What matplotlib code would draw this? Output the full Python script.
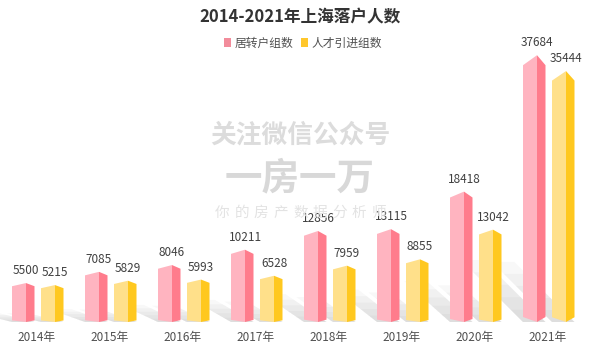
import matplotlib.pyplot as plt
from matplotlib.patches import Polygon, Patch

# 上海落户数据
years = ['2014年', '2015年', '2016年', '2017年', '2018年', '2019年', '2020年', '2021年']
juzhuanhu = [5500, 7085, 8046, 10211, 12856, 13115, 18418, 37684]
rencai = [5215, 5829, 5993, 6528, 7959, 8855, 13042, 35444]

plt.rcParams['font.family'] = ['Noto Sans CJK SC', 'DejaVu Sans']

pink_front, pink_side = '#FFB4C0', '#FF7C8C'
yellow_front, yellow_side = '#FFE08A', '#FFC81F'

fig = plt.figure(figsize=(6, 3.5), dpi=100)
ax = fig.add_axes([0, 28 / 350, 1, 322 / 350])
ax.set_xlim(-37 / 73, (600 - 37) / 73)
ax.set_ylim(0, 45480)
ax.axis('off')

px_x = 1 / 73          # один пиксель по x
px_y = 45480 / 322     # один пиксель по y


def shadow(x0, x2, value, k):
    # мягкая тень на полу, уходит влево-вверх
    h = value / px_y
    length = 30 + 0.12 * h
    for f in [0.2, 0.4, 0.6, 0.8, 1.0]:
        sx = -length * f * px_x
        sy = length * k * f * px_y
        pts = [(x0, 0), (x2, 0), (x2 + sx, sy), (x0 + sx, sy)]
        ax.add_patch(Polygon(pts, closed=True, facecolor='#8a8a8a', edgecolor='none',
                             alpha=0.06, zorder=1))


def bar3d(xc, value, front, side):
    x0 = xc - 14 * px_x / 2 - 4 * px_x
    x1 = x0 + 14 * px_x
    x2 = x1 + 8.5 * px_x
    h = value / px_y
    cap = (2 + 0.03 * h) * px_y
    bot = cap * 0.5
    ax.add_patch(Polygon([(x0, bot), (x1, 0), (x1, value), (x0, value - cap)],
                         closed=True, facecolor=front, edgecolor='none', zorder=3))
    ax.add_patch(Polygon([(x1, 0), (x2, bot), (x2, value - cap), (x1, value)],
                         closed=True, facecolor=side, edgecolor='none', zorder=3))
    return x0, x1, x2


for i in range(len(years)):
    k = 0.25 + 0.75 * i / (len(years) - 1)
    for xc, v, fc, sc in [(i - 14 * px_x, juzhuanhu[i], pink_front, pink_side),
                          (i + 15 * px_x, rencai[i], yellow_front, yellow_side)]:
        x0, x1, x2 = bar3d(xc, v, fc, sc)
        shadow(x0, x2, v, k)
        ax.annotate(str(v), xy=(x1, v), xytext=(0, 6), textcoords='offset pixels',
                    ha='center', va='bottom', fontsize=8.5, color='#404040', zorder=5)
    ax.annotate(years[i], xy=(i, 0), xytext=(0, -15), textcoords='offset pixels',
                ha='center', va='center', fontsize=8.5, color='#505050')

# водяной знак
fig.text(0.5, 1 - 135 / 350, '关注微信公众号', ha='center', va='center', fontsize=18.5,
         fontweight='bold', color='#dcdcdc', zorder=0)
fig.text(0.5, 1 - 178 / 350, '一房一万', ha='center', va='center', fontsize=27,
         fontweight='bold', color='#d8d8d8', zorder=0)
for j, ch in enumerate('你的房产数据分析师'):
    fig.text((222 + j * 19.6) / 600, 1 - 213 / 350, ch, ha='center', va='center',
             fontsize=10.5, color='#e3e3e3', zorder=0)

fig.text(0.5, 1 - 17 / 350, '2014-2021年上海落户人数', ha='center', va='center',
         fontsize=12, fontweight='bold', color='#333333')

handles = [Patch(facecolor='#F28C9B', edgecolor='none', label='居转户组数'),
           Patch(facecolor='#FFC72C', edgecolor='none', label='人才引进组数')]
fig.legend(handles=handles, loc='center', bbox_to_anchor=(303 / 600, 1 - 43 / 350), ncol=2,
           frameon=False, fontsize=8.5, handlelength=0.6, handleheight=0.7,
           handletextpad=0.35, columnspacing=0.6, labelcolor='#505050')

fig.savefig('out.png', dpi=100)
